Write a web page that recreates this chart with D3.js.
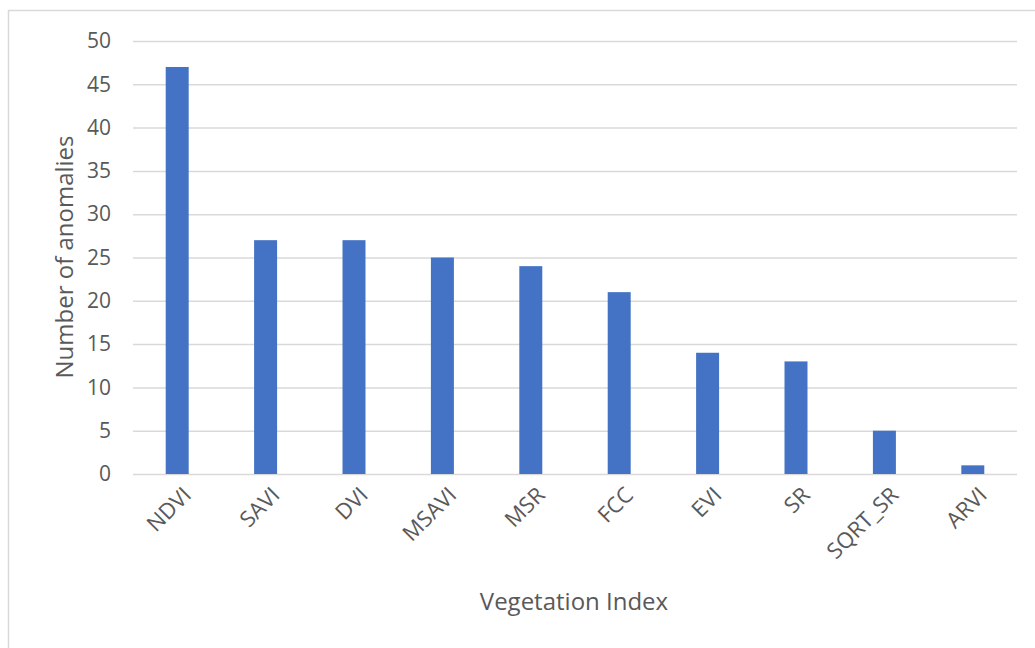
<!DOCTYPE html>
<html><head><meta charset="utf-8">
<script src="https://cdn.jsdelivr.net/npm/d3@7"></script>
<style>body{margin:0;background:#fff}svg{display:block}</style>
</head><body>
<script>
const categories = ["NDVI","SAVI","DVI","MSAVI","MSR","FCC","EVI","SR","SQRT_SR","ARVI"];
const values = [47,27,27,25,24,21,14,13,5,1];
const yTicks = [0,5,10,15,20,25,30,35,40,45,50];

const W = 1035, H = 648;
const svg = d3.select("body").append("svg").attr("width", W).attr("height", H);
svg.append("rect").attr("x", 8.5).attr("y", 10.5).attr("width", 1040).attr("height", 650)
  .attr("fill", "#fff").attr("stroke", "#d9d9d9").attr("stroke-width", 1.5);

const m = {left: 133, right: 1017, top: 41, bottom: 474};
const x = d3.scaleBand().domain(categories).range([m.left, m.right]).paddingInner(0.74).paddingOuter(0.37);
const y = d3.scaleLinear().domain([0, 50]).range([m.bottom, m.top]);
const font = "'Open Sans', 'Liberation Sans', sans-serif";

const yAxis = d3.axisLeft(y).tickValues(yTicks).tickSize(-(m.right - m.left)).tickPadding(22);
const gy = svg.append("g").attr("transform", `translate(${m.left},0)`).call(yAxis);
gy.select(".domain").remove();
gy.selectAll(".tick line").attr("stroke", "#d9d9d9").attr("stroke-width", 1.5);
gy.selectAll(".tick text").attr("fill", "#595959").style("font-family", font).style("font-size", "21px");

svg.append("g").selectAll("rect").data(values).join("rect")
  .attr("x", (d, i) => x(categories[i]))
  .attr("width", x.bandwidth())
  .attr("y", d => y(d))
  .attr("height", d => y(0) - y(d))
  .attr("fill", "#4472C4");

const xAxis = d3.axisBottom(x).tickSize(0).tickPadding(0);
const gx = svg.append("g").attr("transform", `translate(0,${m.bottom})`).call(xAxis);
gx.select(".domain").remove();
gx.selectAll(".tick text")
  .attr("fill", "#595959").style("font-family", font).style("font-size", "22px")
  .attr("text-anchor", "end").attr("dy", "0.35em")
  .attr("transform", "translate(10,17) rotate(-45)");

svg.append("text").attr("transform", `translate(73,257) rotate(-90)`)
  .attr("text-anchor", "middle").attr("fill", "#595959")
  .style("font-family", font).style("font-size", "24px").text("Number of anomalies");
svg.append("text").attr("x", 574).attr("y", 610)
  .attr("text-anchor", "middle").attr("fill", "#595959")
  .style("font-family", font).style("font-size", "24px").text("Vegetation Index");
</script>
</body></html>
